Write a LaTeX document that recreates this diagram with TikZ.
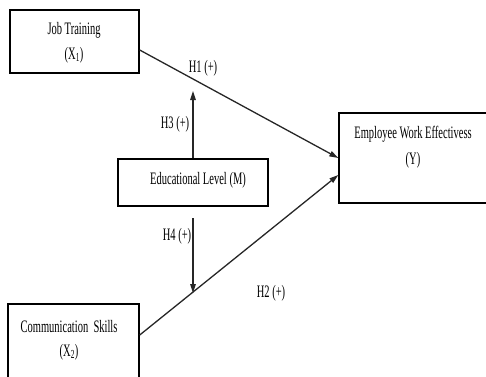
\documentclass[tikz,border=0pt]{standalone}
\usepackage{fontspec}
\setmainfont{Liberation Serif}
\usetikzlibrary{arrows.meta,calc}
\newcommand\cnd[1]{\scalebox{0.6}[1]{#1}}
\tikzset{
  box/.style={draw=black, line width=1.4pt, minimum width=#1, inner sep=0pt},
  txt/.style={font=\fontsize{17.5}{20}\selectfont, inner sep=0pt},
  link/.style={draw=black!85, line width=1.3pt, -{Triangle[length=9pt,width=5.5pt]}},
  hyp/.style={font=\fontsize{17.5}{20}\selectfont, inner sep=0pt}
}
\begin{document}
\begin{tikzpicture}[x=1pt,y=-1pt]
\useasboundingbox (0,0) rectangle (486,376);
\clip (0,0) rectangle (486,376);
% boxes
\node[box=129pt, minimum height=63pt] (jt) at (74.5,41.5) {};
\node[box=150pt, minimum height=47pt] (ed) at (193,182.5) {};
\node[box=131pt, minimum height=86pt] (cs) at (73.5,347) {};
\node[box=161pt, minimum height=90pt] (ee) at (419.5,158) {};
% texts
\node[txt] (jt1) at (74,30) {\cnd{Job Training}};
\node[txt] (jt2) at (74,55) {\cnd{(X\textsubscript{1})}};
\node[txt] (ed1) at (198,180) {\cnd{Educational Level (M)}};
\node[txt] (cs1) at (69,327) {\cnd{Communication\ \ Skills}};
\node[txt] (cs2) at (69,352) {\cnd{(X\textsubscript{2})}};
\node[txt] (ee1) at (413,134) {\cnd{Employee Work Effectivess}};
\node[txt] (ee2) at (413,160) {\cnd{(Y)}};
% coordinates
\coordinate (h3e) at (193,91);
\coordinate (h4s) at (193,218);
\coordinate (h4e) at (193,293);
% connectors
\draw[link] ([yshift=-8.5pt]jt.east) -- (ee.west);
\draw[link] ([yshift=12pt]cs.east) -- ([yshift=-17pt]ee.west);
\draw[link] (ed.north) -- (h3e);
\draw[link] (h4s) -- (h4e);
% hypothesis labels
\node[hyp] (h1) at (203,68) {\cnd{H1 (+)}};
\node[hyp] (h3) at (175,124) {\cnd{H3 (+)}};
\node[hyp] (h4) at (177,236) {\cnd{H4 (+)}};
\node[hyp] (h2) at (271,293) {\cnd{H2 (+)}};
\end{tikzpicture}
\end{document}
